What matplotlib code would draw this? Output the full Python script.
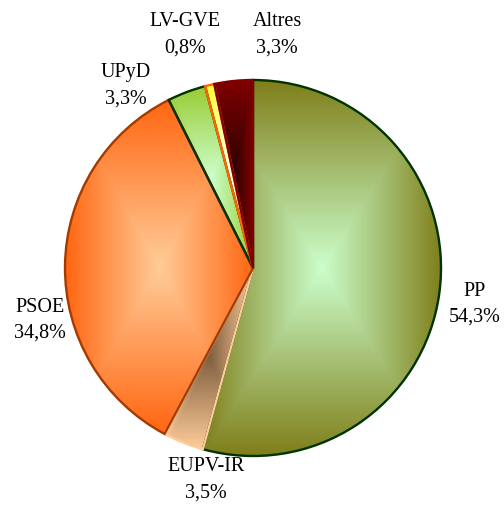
import numpy as np
import matplotlib
matplotlib.use("Agg")
import matplotlib.pyplot as plt
from matplotlib.colors import to_rgb

# Data
parties = ["PP", "EUPV-IR", "PSOE", "UPyD", "LV-GVE", "Altres"]
shares = [54.3, 3.5, 34.8, 3.3, 0.8, 3.3]
pct_labels = ["54,3%", "3,5%", "34,8%", "3,3%", "0,8%", "3,3%"]

# gradient colours (centre, border) and outline per slice
grad_centre = ["#ccffcc", "#806040", "#ffcc99", "#ccffcc", "#ffffff", "#2a0000"]
grad_edge = ["#7f7f1a", "#ffcc99", "#ff6611", "#99cc33", "#ffff33", "#800000"]
outline = ["#003300", "#ffcc99", "#a33a00", "#003300", "#ff6600", "#800000"]

# label block centres (x, y) in pixel space of the 504x510 image
label_pos = [(475, 304), (206, 480), (40, 320), (126, 86), (185, 35), (277, 35)]

W, H = 504, 510
plt.rcParams["font.family"] = ["Liberation Serif", "DejaVu Serif"]

fig = plt.figure(figsize=(W / 100, H / 100), dpi=100)
ax = fig.add_axes([0, 0, 1, 1])

wedges, _ = ax.pie(shares, startangle=90, counterclock=False,
                   center=(253, H - 269), radius=188, frame=True)
ax.set_xlim(0, W)
ax.set_ylim(0, H)
ax.set_aspect("equal")
ax.axis("off")

for w, c0, c1, oc in zip(wedges, grad_centre, grad_edge, outline):
    # rectangular "from centre" gradient over the slice's bounding box
    ext = w.get_path().get_extents()
    gx, gy = np.meshgrid(np.linspace(-1, 1, 200), np.linspace(-1, 1, 200))
    t = np.maximum(np.abs(gx), np.abs(gy))[..., None]
    a, b = np.array(to_rgb(c0)), np.array(to_rgb(c1))
    img = a * (1 - t) + b * t
    im = ax.imshow(img, extent=(ext.x0, ext.x1, ext.y0, ext.y1), origin="lower",
                   interpolation="bilinear", zorder=1)
    im.set_clip_path(w)
    w.set_facecolor("none")
    w.set_edgecolor(oc)
    w.set_linewidth(1.7)
    w.set_zorder(2)

for name, pct, (px, py) in zip(parties, pct_labels, label_pos):
    ax.text(px, H - py, f"{name}\n{pct}", ha="center", va="center",
            fontsize=14.5, linespacing=1.5, color="black")

fig.savefig("out.png", dpi=100)
